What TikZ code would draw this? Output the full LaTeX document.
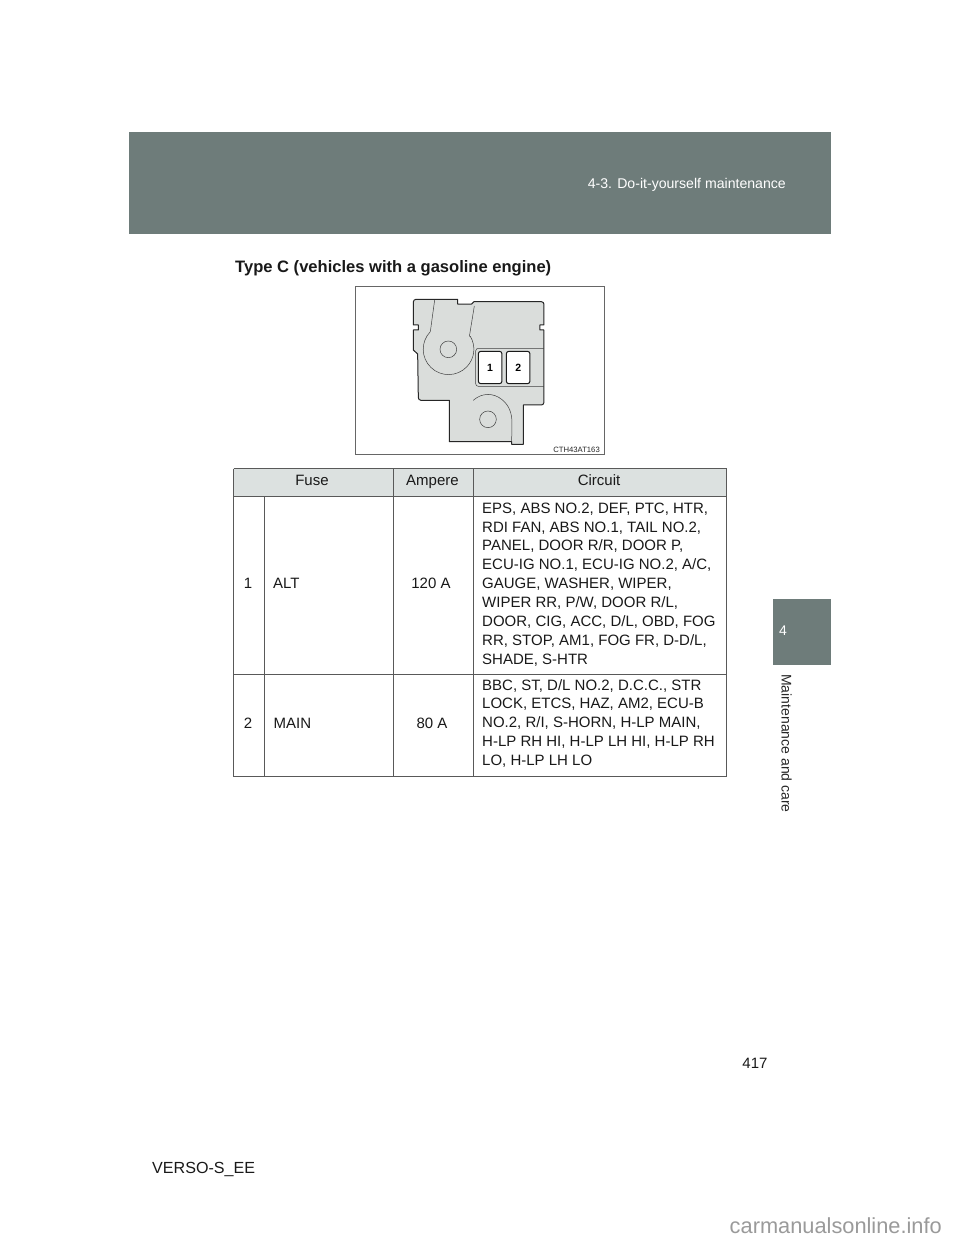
\documentclass[tikz,border=0pt]{standalone}
\usepackage{fontspec}
\setmainfont{Liberation Sans}
\definecolor{band}{HTML}{6E7C7A}
\definecolor{headbg}{HTML}{DCE1E0}
\definecolor{partbg}{HTML}{DADDDB}
\definecolor{wm}{HTML}{9A9A9A}
\tikzset{
  x=1pt,y=-1pt,
  body/.style={inner sep=0pt,font=\fontsize{15}{18.9}\selectfont,text=black!90},
  bodyl/.style={body,anchor=north west,align=left},
  rule/.style={draw=black!65,line width=0.9pt},
  partline/.style={draw=black!75,line width=0.5pt},
  outline/.style={draw=black!85,line width=1pt,line join=round},
}
\begin{document}
\begin{tikzpicture}
\useasboundingbox (0,0) rectangle (960,1242);
\fill[white] (0,0) rectangle (960,1242);
% header bands
\fill[band] (129,132) rectangle (831,234);
\fill[band] (773,599) rectangle (831,665);
\node[body,anchor=base east,text=white,font=\fontsize{14.1}{16}\selectfont] (hdr) at (786,188) {4-3. Do-it-yourself maintenance};
\node[body,anchor=base,text=white,font=\fontsize{14}{16}\selectfont] (tabnum) at (783,635) {4};
\node[body,anchor=base,text=black!85,rotate=-90,font=\fontsize{14}{16}\selectfont] (tabtxt) at (781.5,743.5) {Maintenance and care};
\node[body,anchor=base west,font=\fontsize{16.55}{18}\selectfont\bfseries] (title) at (235,272) {Type C (vehicles with a gasoline engine)};
% figure
\draw[draw=black!60,line width=0.8pt] (355.5,286.5) rectangle (604.5,454.5);
\begin{scope}[shift={(350,280)},x=0.3333pt,y=-0.3333pt]
\path[fill=partbg,outline]
  (198,58) -- (323,58) -- (323,72) -- (365,72) -- (372,65) -- (574,65)
  to[out=0,in=90] (582,73) -- (582,135) -- (570,135) -- (570,150) -- (582,150)
  -- (582,367) to[out=-90,in=0] (574,375) -- (520,375) -- (520,493) -- (485,493) -- (485,485) -- (298,485)
  -- (298,361) -- (213,361) to[out=180,in=-90] (205,353) -- (203,222) -- (190,210) -- (190,150)
  -- (205,150) -- (205,135) -- (190,135) -- (190,66) to[out=90,in=180] (198,58) -- cycle;
\draw[partline] (254,60) -- (241,155);
\draw[partline] (373,78) -- (358,170);
\draw[partline] (241,155) arc[start angle=224,end angle=-31,radius=76];
\draw[partline] (295,208) circle[radius=25];
\draw[partline] (414,418) circle[radius=25];
\draw[partline] (370,361) .. controls (395,338) and (430,338) .. (455,358) .. controls (478,376) and (486,400) .. (486,430) -- (485,485);
\draw[partline] (582,205) -- (385,205) to[out=180,in=90] (377,213) -- (377,311) to[out=-90,in=180] (385,319) -- (582,319);
\draw[fill=white,draw=black!90,line width=1pt,rounded corners=2.5pt] (385,214) rectangle (456,311);
\draw[fill=white,draw=black!90,line width=1pt,rounded corners=2.5pt] (469,214) rectangle (540,311);
\node[inner sep=0pt,font=\fontsize{10.5}{11}\selectfont\bfseries] (f1) at (420,263) {1};
\node[inner sep=0pt,font=\fontsize{10.5}{11}\selectfont\bfseries] (f2) at (505,263) {2};
\end{scope}
\node[inner sep=0pt,anchor=base east,font=\fontsize{7.7}{9}\selectfont,text=black!85] (code) at (600,452) {CTH43AT163};
% table
\fill[headbg] (233.5,468.5) rectangle (726.5,496.5);
\draw[rule] (233.5,468.5) -- (726.5,468.5);
\draw[rule] (233.5,496.5) -- (726.5,496.5);
\draw[rule] (233.5,674) -- (726.5,674);
\draw[rule] (233.5,776.5) -- (726.5,776.5);
\draw[rule] (233.5,468.5) -- (233.5,776.5);
\draw[rule] (726.5,468.5) -- (726.5,776.5);
\draw[rule] (393.5,468.5) -- (393.5,776.5);
\draw[rule] (473.5,468.5) -- (473.5,776.5);
\draw[rule] (264.5,496.5) -- (264.5,776.5);
\node[body,anchor=base] (hfuse) at (312,485) {Fuse};
\node[body,anchor=base] (hamp) at (432.5,485) {Ampere};
\node[body,anchor=base] (hcirc) at (599,485) {Circuit};
\node[body,anchor=base] (n1) at (248,588) {1};
\node[body,anchor=base west] (alt) at (273,588) {ALT};
\node[body,anchor=base] (a1) at (431,588) {120 A};
\node[body,anchor=base] (n2) at (248,728) {2};
\node[body,anchor=base west] (main) at (273.5,728) {MAIN};
\node[body,anchor=base] (a2) at (432,728) {80 A};
\node[bodyl] (c1) at (482,502.5) {EPS, ABS NO.2, DEF, PTC, HTR,\\RDI FAN, ABS NO.1, TAIL NO.2,\\PANEL, DOOR R/R, DOOR P,\\ECU-IG NO.1, ECU-IG NO.2, A/C,\\GAUGE, WASHER, WIPER,\\WIPER RR, P/W, DOOR R/L,\\DOOR, CIG, ACC, D/L, OBD, FOG\\RR, STOP, AM1, FOG FR, D-D/L,\\SHADE, S-HTR};
\node[bodyl] (c2) at (482,679) {BBC, ST, D/L NO.2, D.C.C., STR\\LOCK, ETCS, HAZ, AM2, ECU-B\\NO.2, R/I, S-HORN, H-LP MAIN,\\H-LP RH HI, H-LP LH HI, H-LP RH\\LO, H-LP LH LO};
% footer
\node[body,anchor=base] (page) at (755,1068) {417};
\node[body,anchor=base west,font=\fontsize{16.1}{18}\selectfont] (ver) at (152,1173) {VERSO-S\_EE};
\node[inner sep=0pt,anchor=base east,text=wm,font=\fontsize{21.8}{24}\selectfont] (wmk) at (942,1233) {carmanualsonline.info};
\end{tikzpicture}
\end{document}
